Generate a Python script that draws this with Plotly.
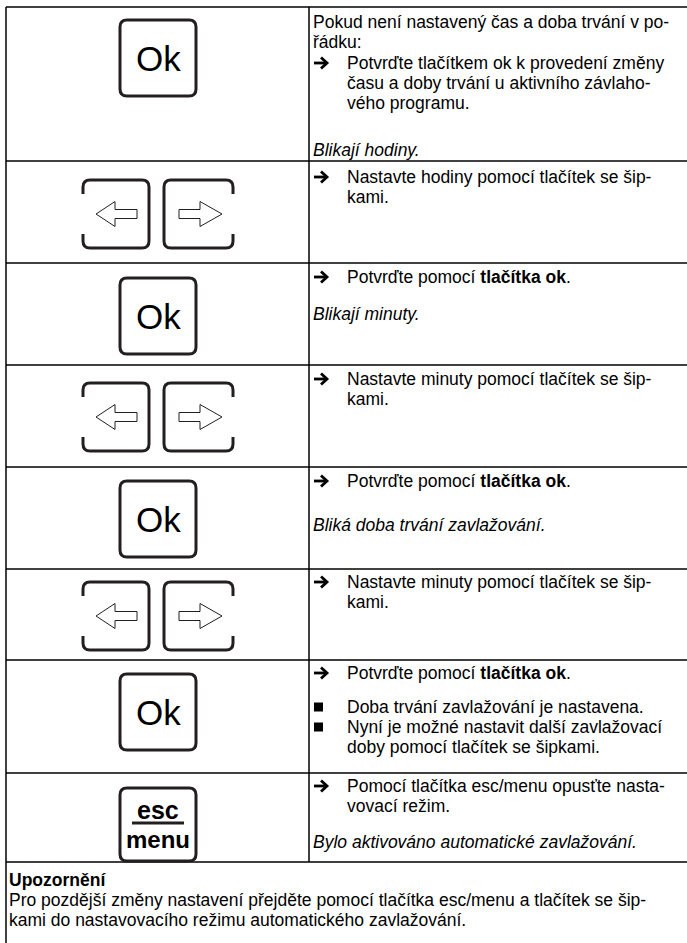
import plotly.graph_objects as go

W, H = 687, 943
FONT = "Liberation Sans, Arial, sans-serif"
FS = 17.5
INK = "#000000"
KEY = "#231f20"

# ---- table structure ----
row_edges = [7, 161, 263, 365, 467, 569, 660, 773, 862]
table_left = 6
col_split = 309
page_right = 687

icon_kinds = ["ok", "arrows", "ok", "arrows", "ok", "arrows", "ok", "esc"]
icon_tops = [20, 180, 278, 383, 481, 582, 674, 788]

# ---- text content: (y, style, text) ----
# styles: p = plain at column start, a = arrow item, c = continuation, i = italic, q = bullet
lines = [
    (22, "p", "Pokud není nastavený čas a doba trvání v po-"),
    (42, "p", "řádku:"),
    (63, "a", "Potvrďte tlačítkem ok k provedení změny"),
    (83, "c", "času a doby trvání u aktivního závlaho-"),
    (103, "c", "vého programu."),
    (150, "i", "Blikají hodiny."),
    (177, "a", "Nastavte hodiny pomocí tlačítek se šip-"),
    (197, "c", "kami."),
    (277, "a", "Potvrďte pomocí <b>tlačítka ok</b>."),
    (314, "i", "Blikají minuty."),
    (379, "a", "Nastavte minuty pomocí tlačítek se šip-"),
    (399, "c", "kami."),
    (481, "a", "Potvrďte pomocí <b>tlačítka ok</b>."),
    (525, "i", "Bliká doba trvání zavlažování."),
    (582, "a", "Nastavte minuty pomocí tlačítek se šip-"),
    (602, "c", "kami."),
    (673, "a", "Potvrďte pomocí <b>tlačítka ok</b>."),
    (707, "q", "Doba trvání zavlažování je nastavena."),
    (727, "q", "Nyní je možné nastavit další zavlažovací"),
    (747, "c", "doby pomocí tlačítek se šipkami."),
    (786, "a", "Pomocí tlačítka esc/menu opusťte nasta-"),
    (806, "c", "vovací režim."),
    (842, "i", "Bylo aktivováno automatické zavlažování."),
]

notice_title = "Upozornění"
notice_lines = [
    "Pro pozdější změny nastavení přejděte pomocí tlačítka esc/menu a tlačítek se šip-",
    "kami do nastavovacího režimu automatického zavlažování.",
]
notice_ys = [880, 900, 920]

shapes = []
annotations = []


def hline(y, x0, x1, w=1.5):
    shapes.append(dict(type="line", xref="x", yref="y", x0=x0, x1=x1, y0=y, y1=y,
                       line=dict(color=INK, width=w)))


def vline(x, y0, y1, w=1.5):
    shapes.append(dict(type="line", xref="x", yref="y", x0=x, x1=x, y0=y0, y1=y1,
                       line=dict(color=INK, width=w)))


def text(x, y, s, size=FS, xanchor="left", italic=False, bold=False, family=FONT):
    if bold:
        s = "<b>" + s + "</b>"
    if italic:
        s = "<i>" + s + "</i>"
    annotations.append(dict(x=x, y=y, xref="x", yref="y", text=s, showarrow=False,
                            xanchor=xanchor, yanchor="middle", align="left", borderpad=0,
                            font=dict(family=family, size=size, color=INK)))


def rounded_box(x0, y0, x1, y1, r=7, w=3):
    p = (f"M {x0+r},{y0} H {x1-r} Q {x1},{y0} {x1},{y0+r} V {y1-r} Q {x1},{y1} {x1-r},{y1} "
         f"H {x0+r} Q {x0},{y1} {x0},{y1-r} V {y0+r} Q {x0},{y0} {x0+r},{y0} Z")
    shapes.append(dict(type="path", xref="x", yref="y", path=p,
                       line=dict(color=KEY, width=w), fillcolor="rgba(0,0,0,0)"))


def open_box(x0, y0, x1, y1, open_side, r=7, stub=14, w=3):
    if open_side == "left":
        p = (f"M {x0},{y0+stub} V {y0+r} Q {x0},{y0} {x0+r},{y0} H {x1-r} Q {x1},{y0} {x1},{y0+r} "
             f"V {y1-r} Q {x1},{y1} {x1-r},{y1} H {x0+r} Q {x0},{y1} {x0},{y1-r} V {y1-stub}")
    else:
        p = (f"M {x1},{y0+stub} V {y0+r} Q {x1},{y0} {x1-r},{y0} H {x0+r} Q {x0},{y0} {x0},{y0+r} "
             f"V {y1-r} Q {x0},{y1} {x0+r},{y1} H {x1-r} Q {x1},{y1} {x1},{y1-r} V {y1-stub}")
    shapes.append(dict(type="path", xref="x", yref="y", path=p,
                       line=dict(color=KEY, width=w), fillcolor="rgba(0,0,0,0)"))


def hollow_arrow(tip, base, tail, cy):
    hh, sh = 12.5, 4.5
    p = (f"M {tip},{cy} L {base},{cy-hh} L {base},{cy-sh} L {tail},{cy-sh} "
         f"L {tail},{cy+sh} L {base},{cy+sh} L {base},{cy+hh} Z")
    shapes.append(dict(type="path", xref="x", yref="y", path=p,
                       line=dict(color=KEY, width=1), fillcolor="white"))


def bold_arrow(x, y):
    shapes.append(dict(type="path", xref="x", yref="y",
                       path=f"M {x},{y} H {x+11}",
                       line=dict(color=INK, width=2.8)))
    shapes.append(dict(type="path", xref="x", yref="y",
                       path=f"M {x+7},{y-5.5} L {x+13},{y} L {x+7},{y+5.5}",
                       line=dict(color=INK, width=2.8)))


def bullet(x, y):
    shapes.append(dict(type="rect", xref="x", yref="y", x0=x, x1=x + 9, y0=y - 4.5, y1=y + 4.5,
                       line=dict(width=0), fillcolor=INK))


# ---- table lines ----
for y in row_edges:
    hline(y, table_left, page_right)
vline(table_left, row_edges[0], H)
vline(col_split, row_edges[0], row_edges[-1])

# ---- icons ----
for kind, top in zip(icon_kinds, icon_tops):
    if kind == "ok":
        rounded_box(120, top, 196, top + 76)
        text(158, top + 38, "Ok", size=35, xanchor="center")
    elif kind == "arrows":
        b = top + 68
        cy = top + 34
        open_box(83, top, 149, b, "left")
        open_box(164, top, 233, b, "right")
        hollow_arrow(96, 115, 137, cy)
        hollow_arrow(222, 200, 179, cy)
    else:
        rounded_box(120, top, 196, top + 73)
        text(158, top + 22, "esc", size=25, xanchor="center", bold=True)
        shapes.append(dict(type="line", xref="x", yref="y", x0=132, x1=184,
                           y0=top + 35, y1=top + 35, line=dict(color=KEY, width=3)))
        text(158, top + 51, "menu", size=24, xanchor="center", bold=True)

# ---- right column text ----
TX0 = 312
TX1 = 346
for y, style, s in lines:
    if style == "p":
        text(TX0, y, s)
    elif style == "i":
        text(TX0, y, s, italic=True)
    elif style == "a":
        bold_arrow(TX0 + 2, y)
        text(TX1, y, s)
    elif style == "q":
        bullet(TX0 + 2, y)
        text(TX1, y, s)
    else:
        text(TX1, y, s)

# ---- notice ----
text(8, notice_ys[0], notice_title, bold=True)
for y, s in zip(notice_ys[1:], notice_lines):
    text(8, y, s)

fig = go.Figure()
fig.update_layout(
    width=W, height=H,
    margin=dict(l=0, r=0, t=0, b=0),
    paper_bgcolor="white", plot_bgcolor="white",
    xaxis=dict(range=[0, W], visible=False, fixedrange=True),
    yaxis=dict(range=[H, 0], visible=False, fixedrange=True),
    shapes=shapes, annotations=annotations, showlegend=False,
)
fig.write_html("out.html", config={"displayModeBar": False},
               post_script="document.body.style.margin='0';document.body.style.overflow='hidden';")
